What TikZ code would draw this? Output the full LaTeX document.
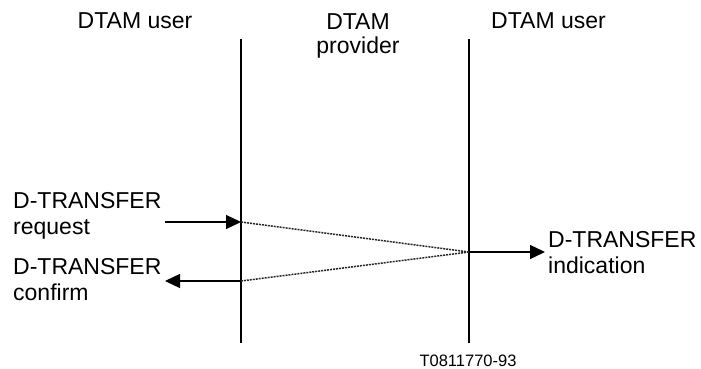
\documentclass[tikz,border=0pt]{standalone}
\usepackage{fontspec}
\setmainfont{Liberation Sans}
\usetikzlibrary{arrows.meta}
\begin{document}
\begin{tikzpicture}[x=1pt,y=-1pt,
  lbl/.style={font=\fontsize{23}{26}\selectfont, align=left, inner sep=0pt, anchor=base west},
  hdr/.style={font=\fontsize{23}{24}\selectfont, align=center, inner sep=0pt, anchor=base},
  life/.style={line width=1.3pt},
  msg/.style={line width=1.3pt, -{Triangle[length=15pt,width=14pt]}},
  prov/.style={line width=1.5pt, dash pattern=on 2pt off 1pt, black!85}]
\useasboundingbox (0,0) rectangle (701,369);
\node[hdr] (h1) at (135,29) {DTAM user};
\node[hdr] (h2) at (358,53) {DTAM\\provider};
\node[hdr] (h3) at (548.5,29) {DTAM user};
\coordinate (l1t) at (241,39); \coordinate (l1b) at (241,343);
\coordinate (l2t) at (469,39); \coordinate (l2b) at (469,343);
\draw[life] (l1t) -- (l1b);
\draw[life] (l2t) -- (l2b);
\coordinate (req) at (241,222);
\coordinate (mid) at (469,252);
\coordinate (cnf) at (241,281);
\coordinate (reqs) at (165,222);
\coordinate (cnfe) at (165,281);
\coordinate (inde) at (545,252);
\draw[msg] (reqs) -- (req);
\draw[prov] (req) -- (mid);
\draw[prov] (mid) -- (cnf);
\draw[msg] (cnf) -- (cnfe);
\draw[msg] (mid) -- (inde);
\node[lbl] (t1) at (13,234) {D-TRANSFER\\request};
\node[lbl] (t2) at (13,300) {D-TRANSFER\\confirm};
\node[lbl] (t3) at (548,273) {D-TRANSFER\\indication};
\node[font=\fontsize{16.5}{18}\selectfont, inner sep=0pt, anchor=base] (code) at (468,366) {T0811770-93};
\end{tikzpicture}
\end{document}
